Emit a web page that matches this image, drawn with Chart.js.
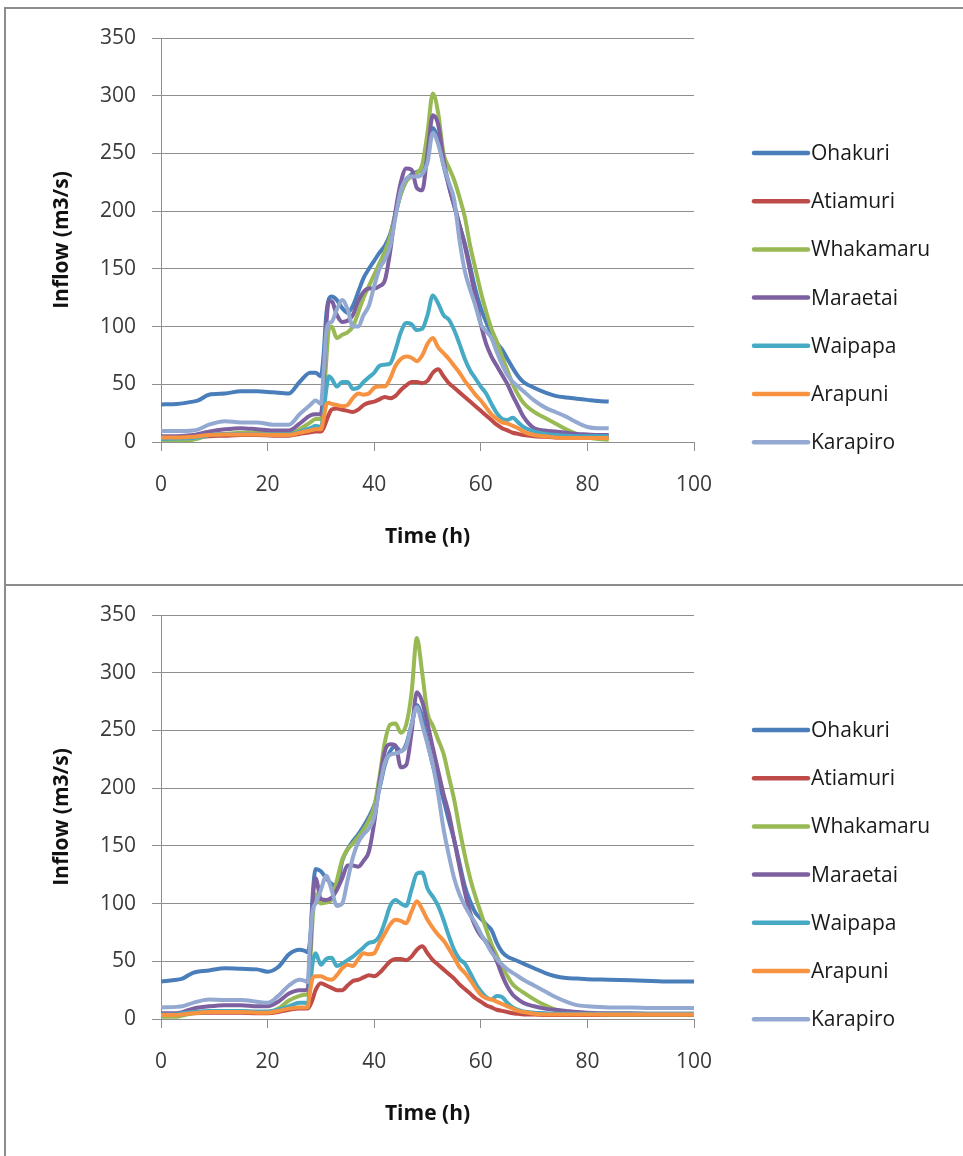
<!DOCTYPE html>
<html>
<head>
<meta charset="utf-8">
<script src="https://cdn.jsdelivr.net/npm/chart.js@4/dist/chart.umd.min.js"></script>
<style>
  body { margin: 0; background: #fff; overflow: hidden; }
  .box { position: absolute; left: 4px; width: 1000px; height: 575px; border: 2px solid #8c8c8c; }
  .plot { position: absolute; left: 0; top: 0; width: 957px; height: 575px; }
</style>
</head>
<body>
<div class="box" style="top:7px"><div class="plot"><canvas id="chartTop"></canvas></div></div>
<div class="box" style="top:584px"><div class="plot"><canvas id="chartBottom"></canvas></div></div>
<script>
// station names and colours (Excel style)
var stations = ['Ohakuri', 'Atiamuri', 'Whakamaru', 'Maraetai', 'Waipapa', 'Arapuni', 'Karapiro'];
var colours = ['#4A7EBB', '#BE4B48', '#98B954', '#7D60A0', '#46AAC5', '#F69240', '#93A9D1'];
var yTicks = [0, 50, 100, 150, 200, 250, 300, 350];
var xTicks = [0, 20, 40, 60, 80, 100];

// ---- top chart: time (h) and inflow (m3/s)
var timeTop = [0, 3, 6, 7, 9, 12, 15, 18, 21, 24, 26, 28, 29, 30, 30.5, 31, 31.5, 32,
  33, 34, 35, 36, 37, 38, 39, 40, 41, 42, 43, 44, 45, 46, 47, 48, 49, 50,
  51, 52, 53, 54, 55, 56, 57, 58, 59, 60, 61, 62, 63, 64, 65, 66, 67, 68,
  70, 72, 74, 76, 78, 80, 82, 84];
var ohakuriTop = [32.5, 33, 35, 36, 41, 42, 44, 44, 43, 42, 52, 60, 60, 57, 75, 110, 124, 126,
  123, 116, 112, 118, 130, 142, 150, 157, 164, 170, 180, 198, 215, 226, 232, 234, 236, 248,
  272, 262, 240, 222, 205, 188, 172, 152, 132, 116, 104, 94, 86, 80, 72, 64, 57, 52,
  47, 43, 40, 38.5, 37.5, 36.5, 35.5, 35];
var atiamuriTop = [3, 3, 3.5, 4, 5, 5.5, 6, 6, 5.5, 5.5, 7, 8.5, 9, 9, 12, 18, 24, 28,
  29, 28, 27, 26, 28, 32, 34, 35, 37, 39, 38, 40, 45, 49, 52, 52, 51, 53,
  60, 63, 57, 51, 47, 43, 39, 35, 31, 27, 23, 19, 15, 12, 10, 8, 7, 6,
  5, 4.5, 4, 4, 4, 4, 4, 4];
var whakamaruTop = [1, 1.5, 2, 3, 6, 7, 8, 8, 7, 7, 11, 17, 20, 20, 35, 70, 98, 100,
  90, 93, 95, 100, 112, 125, 135, 145, 155, 165, 178, 198, 215, 226, 230, 233, 240, 268,
  302, 285, 250, 238, 227, 212, 195, 170, 150, 130, 113, 98, 87, 74, 62, 50, 41, 34,
  26, 21, 16, 11, 7, 4, 2.5, 2];
var maraetaiTop = [5, 5, 6, 7, 9, 11, 12, 11, 10, 10, 16, 23, 24, 24, 50, 100, 122, 122,
  110, 104, 105, 110, 122, 130, 133, 133, 135, 140, 165, 200, 225, 237, 236, 220, 218, 250,
  283, 275, 245, 222, 205, 188, 170, 148, 125, 102, 85, 74, 66, 58, 50, 40, 31, 22,
  12, 10, 9, 8, 7, 6.5, 6, 6];
var waipapaTop = [2.5, 3, 3.5, 4, 6, 7, 7, 7, 6.5, 6.5, 9, 12, 14, 13, 25, 45, 57, 55,
  48, 52, 52, 46, 47, 52, 56, 60, 66, 67, 68, 80, 95, 103, 102, 97, 98, 110,
  127, 120, 110, 106, 97, 85, 72, 62, 55, 48, 42, 33, 25, 20, 19, 21, 17, 13,
  9, 7, 6, 5.5, 5, 5, 5, 5];
var arapuniTop = [4, 4, 4.5, 5, 6, 6.5, 6.5, 6.5, 6, 6, 8, 10, 11, 11, 20, 32, 34, 33,
  32, 31, 32, 38, 42, 41, 42, 47, 48, 48, 55, 66, 72, 74, 73, 70, 75, 85,
  90, 82, 77, 72, 66, 60, 53, 47, 41, 36, 30, 24, 20, 17, 16, 14, 12, 9,
  6, 5, 4, 3.5, 3.5, 3.5, 3.5, 3.5];
var karapiroTop = [9.5, 9.5, 10, 11, 15, 18, 17, 17, 15, 15, 24, 32, 36, 33, 60, 95, 103, 104,
  115, 123, 115, 100, 100, 110, 118, 135, 150, 158, 170, 195, 218, 228, 230, 230, 232, 242,
  268, 258, 240, 225, 210, 175, 148, 132, 118, 102, 96, 90, 78, 67, 58, 52, 48, 44,
  36, 30, 26, 22, 17, 13, 12, 12];

// ---- bottom chart
var timeBottom = [0, 3, 4, 6, 9, 12, 15, 18, 20, 22, 24, 26, 27, 27.5, 28, 28.5,
  29, 30, 31, 32, 33, 34, 35, 36, 37, 38, 39, 40, 41, 42, 43, 44, 45, 46, 47, 48,
  49, 50, 51, 52, 53, 54, 55, 56, 57, 58, 59, 60, 61, 62, 63, 64, 65, 66, 67, 68,
  70, 72, 74, 76, 78, 80, 84, 88, 92, 96, 100];
var ohakuriBottom = [32.5, 34, 35, 40, 42, 44, 43.5, 43, 41, 45, 56, 60, 59, 58, 70, 110,
  130, 128, 122, 117, 115, 137, 147, 154, 160, 167, 175, 185, 200, 220, 232, 236, 232, 238, 255, 272,
  262, 240, 220, 205, 190, 172, 155, 135, 115, 102, 92, 87, 82, 77, 66, 58, 54, 52, 50, 48,
  44, 40, 37, 35.5, 35, 34.5, 34, 33.5, 33, 32.5, 32.5];
var atiamuriBottom = [3.5, 3.5, 4, 5, 5.5, 5.5, 5.5, 5, 5, 6, 8, 9, 9, 9, 12, 18,
  25, 31, 29, 27, 25, 25, 29, 33, 34, 36, 38, 37, 40, 45, 50, 52, 52, 51, 54, 60,
  63, 57, 51, 47, 43, 39, 35, 30, 26, 22, 18, 15, 12, 10, 8, 7, 6, 5, 4.5, 4,
  4, 3.5, 3.5, 3.5, 3.5, 3.5, 3.5, 3.5, 3.5, 3.5, 3.5];
var whakamaruBottom = [2, 2, 3, 5, 6, 6.5, 6.5, 6, 6, 9, 16, 20, 21, 21, 50, 90,
  108, 100, 101, 103, 120, 138, 147, 152, 158, 164, 172, 184, 210, 240, 255, 256, 248, 255, 282, 330,
  300, 265, 254, 242, 230, 210, 190, 165, 142, 122, 106, 92, 78, 65, 55, 45, 37, 30, 26, 23,
  17, 12, 8, 6, 5, 4.5, 4, 4, 4, 4, 4];
var maraetaiBottom = [5, 5, 6, 9, 11, 12, 12, 11, 11, 15, 22, 25, 25, 26, 60, 105,
  122, 104, 103, 105, 112, 122, 133, 133, 132, 137, 145, 170, 205, 232, 238, 237, 218, 220, 248, 283,
  275, 256, 235, 215, 195, 178, 155, 132, 110, 92, 80, 72, 67, 60, 50, 38, 28, 21, 17, 14,
  11, 9, 8, 7, 6, 5.5, 5, 5, 4.5, 4.5, 4.5];
var waipapaBottom = [4, 4, 5, 6, 7, 7, 7, 6.5, 6.5, 8, 11, 14, 14, 13, 30, 50,
  57, 47, 52, 53, 46, 48, 51, 54, 58, 62, 66, 67, 72, 84, 98, 103, 100, 98, 112, 126,
  127, 113, 106, 98, 86, 72, 60, 52, 48, 40, 31, 24, 19, 17, 20, 19, 14, 10, 8, 6.5,
  5.5, 5, 4.5, 4.5, 4.5, 4.5, 4.5, 4.5, 4.5, 4.5, 4.5];
var arapuniBottom = [3.5, 3.5, 4, 5, 6, 6, 6, 5.5, 5.5, 7, 9, 10, 10, 10, 25, 36,
  37, 37, 35, 34, 38, 44, 47, 46, 52, 57, 56, 57, 66, 74, 82, 86, 85, 83, 93, 102,
  95, 86, 79, 73, 68, 61, 53, 45, 40, 34, 27, 21, 18, 17, 15, 13, 11, 9, 7, 6,
  4.5, 4, 4, 4, 4, 4, 4, 4, 4, 4, 4];
var karapiroBottom = [10, 10.5, 11, 14, 17, 16.5, 16.5, 15, 14, 20, 29, 34, 33, 32, 70, 95,
  100, 112, 124, 112, 98, 100, 120, 140, 153, 160, 165, 175, 200, 222, 229, 230, 232, 236, 255, 270,
  255, 238, 220, 195, 165, 142, 122, 108, 98, 90, 83, 74, 66, 58, 52, 47, 43, 40, 37, 34,
  29, 24, 19, 15, 12, 11, 10, 10, 9.5, 9.5, 9.5];

var gridGrey = '#8e8e8e';
var fontFamily = '"Open Sans", "Noto Sans", sans-serif';

// legend drawn beside the plot, one line sample per station
var sideKey = {
  id: 'sideKey',
  afterDraw: function(chart) {
    var ctx = chart.ctx;
    ctx.save();
    ctx.font = '21px ' + fontFamily;
    ctx.textBaseline = 'middle';
    ctx.textAlign = 'left';
    chart.data.datasets.forEach(function(ds, i) {
      var y = 144 + i * 48.2;
      ctx.strokeStyle = ds.borderColor;
      ctx.lineWidth = 4.5;
      ctx.lineCap = 'round';
      ctx.beginPath();
      ctx.moveTo(748, y);
      ctx.lineTo(802, y);
      ctx.stroke();
      ctx.fillStyle = '#1a1a1a';
      ctx.fillText(ds.label, 805, y + 1);
    });
    ctx.restore();
  }
};

function makeChart(id, times, seriesList) {
  var datasets = seriesList.map(function(values, i) {
    return {
      label: stations[i],
      data: values.map(function(v, k) { return { x: times[k], y: v }; }),
      borderColor: colours[i],
      backgroundColor: colours[i],
      borderWidth: 4,
      pointRadius: 0,
      fill: false,
      cubicInterpolationMode: 'monotone',
      order: stations.length - i
    };
  });

  return new Chart(document.getElementById(id), {
    type: 'line',
    data: { datasets: datasets },
    options: {
      responsive: true,
      maintainAspectRatio: false,
      animation: false,
      layout: { padding: { left: 0, top: 29, right: 269, bottom: 0 } },
      plugins: { legend: { display: false }, tooltip: { enabled: false } },
      scales: {
        x: {
          type: 'linear',
          min: 0, max: 100,
          afterFit: function(scale) { scale.height = 142; },
          afterBuildTicks: function(scale) { scale.ticks = xTicks.map(function(v) { return { value: v }; }); },
          grid: { drawOnChartArea: false, drawTicks: true, tickLength: 9, color: gridGrey },
          border: { display: true, color: gridGrey, width: 1 },
          ticks: { padding: 21, color: '#3a3a3a', font: { family: fontFamily, size: 21 }, maxRotation: 0 },
          title: {
            display: true, text: 'Time (h)', color: '#111',
            font: { family: fontFamily, size: 21, weight: 'bold', lineHeight: 1.2 },
            padding: { top: 0, bottom: 34 }
          }
        },
        y: {
          min: 0, max: 350,
          afterFit: function(scale) { scale.width = 155; },
          afterBuildTicks: function(scale) { scale.ticks = yTicks.map(function(v) { return { value: v }; }); },
          grid: { color: gridGrey, tickLength: 9 },
          border: { display: true, color: gridGrey, width: 1 },
          ticks: { padding: 16, color: '#3a3a3a', font: { family: fontFamily, size: 21 } },
          title: {
            display: true, text: 'Inflow (m3/s)', color: '#111',
            font: { family: fontFamily, size: 21, weight: 'bold', lineHeight: 1.2 },
            padding: { top: 43, bottom: 0 }
          }
        }
      }
    },
    plugins: [sideKey]
  });
}

makeChart('chartTop', timeTop,
  [ohakuriTop, atiamuriTop, whakamaruTop, maraetaiTop, waipapaTop, arapuniTop, karapiroTop]);
makeChart('chartBottom', timeBottom,
  [ohakuriBottom, atiamuriBottom, whakamaruBottom, maraetaiBottom, waipapaBottom, arapuniBottom, karapiroBottom]);
</script>
</body>
</html>
